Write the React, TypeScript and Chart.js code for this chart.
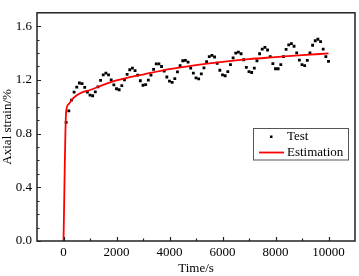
import React, { useEffect, useRef } from "react";
import { Chart, registerables } from "chart.js";

Chart.register(...registerables);

const testTime = [
  100, 200, 300, 400, 500, 600, 700, 800, 900, 1000,
  1100, 1200, 1300, 1400, 1500, 1600, 1700, 1800, 1900, 2000,
  2100, 2200, 2300, 2400, 2500, 2600, 2700, 2800, 2900, 3000,
  3100, 3200, 3300, 3400, 3500, 3600, 3700, 3800, 3900, 4000,
  4100, 4200, 4300, 4400, 4500, 4600, 4700, 4800, 4900, 5000,
  5100, 5200, 5300, 5400, 5500, 5600, 5700, 5800, 5900, 6000,
  6100, 6200, 6300, 6400, 6500, 6600, 6700, 6800, 6900, 7000,
  7100, 7200, 7300, 7400, 7500, 7600, 7700, 7800, 7900, 8000,
  8100, 8200, 8300, 8400, 8500, 8600, 8700, 8800, 8900, 9000,
  9100, 9200, 9300, 9400, 9500, 9600, 9700, 9800, 9900, 10000,
];

const testStrain = [
  0.884, 0.969, 1.049, 1.109, 1.146, 1.177, 1.172, 1.144, 1.109, 1.087,
  1.082, 1.111, 1.148, 1.196, 1.238, 1.25, 1.238, 1.2, 1.163, 1.134,
  1.127, 1.158, 1.2, 1.241, 1.276, 1.288, 1.269, 1.236, 1.194, 1.16,
  1.165, 1.198, 1.236, 1.279, 1.319, 1.32, 1.3, 1.265, 1.222, 1.191,
  1.182, 1.21, 1.26, 1.307, 1.343, 1.345, 1.333, 1.288, 1.25, 1.215,
  1.208, 1.245, 1.29, 1.336, 1.373, 1.383, 1.371, 1.324, 1.272, 1.238,
  1.231, 1.262, 1.314, 1.364, 1.4, 1.407, 1.395, 1.35, 1.293, 1.262,
  1.255, 1.288, 1.343, 1.395, 1.43, 1.442, 1.423, 1.373, 1.321, 1.283,
  1.283, 1.314, 1.373, 1.428, 1.461, 1.47, 1.451, 1.402, 1.347, 1.314,
  1.307, 1.345, 1.402, 1.458, 1.492, 1.503, 1.485, 1.43, 1.373, 1.338,
];

const estTime = [0, 100, 200, 300, 500, 700, 1000, 1500, 2000, 2500, 3000, 4000, 5000, 6000, 7000, 8000, 9000, 10000];
const estStrain = [0, 0.965, 1.02, 1.05, 1.085, 1.107, 1.125, 1.163, 1.196, 1.22, 1.24, 1.28, 1.31, 1.335, 1.355, 1.37, 1.385, 1.397];

const xMajorTicks = [0, 2000, 4000, 6000, 8000, 10000];
const xMinorTicks = [1000, 3000, 5000, 7000, 9000];
const yMajorTicks = [0, 0.4, 0.8, 1.2, 1.6];
const yMinorTicks = [0.1, 0.2, 0.3, 0.5, 0.6, 0.7, 0.9, 1.0, 1.1, 1.3, 1.4, 1.5];

const FONT = "'Liberation Serif', 'Times New Roman', serif";

const framePlugin = {
  id: "frameTicksLegend",
  afterDraw(chart: any) {
    const { ctx, chartArea: a, scales } = chart;
    const xs = scales.x;
    const ys = scales.y;
    ctx.save();
    ctx.strokeStyle = "#222";
    ctx.lineWidth = 1.2;
    ctx.beginPath();
    for (const v of xMajorTicks) {
      const p = Math.round(xs.getPixelForValue(v)) + 0.5;
      ctx.moveTo(p, a.bottom);
      ctx.lineTo(p, a.bottom - 4);
    }
    for (const v of xMinorTicks) {
      const p = Math.round(xs.getPixelForValue(v)) + 0.5;
      ctx.moveTo(p, a.bottom);
      ctx.lineTo(p, a.bottom - 2.5);
    }
    for (const v of yMajorTicks) {
      const p = Math.round(ys.getPixelForValue(v)) + 0.5;
      ctx.moveTo(a.left, p);
      ctx.lineTo(a.left + 4, p);
    }
    for (const v of yMinorTicks) {
      const p = Math.round(ys.getPixelForValue(v)) + 0.5;
      ctx.moveTo(a.left, p);
      ctx.lineTo(a.left + 2.5, p);
    }
    ctx.stroke();
    ctx.lineWidth = 1.5;
    ctx.strokeRect(a.left, a.top, a.right - a.left, a.bottom - a.top);

    // legend
    const lx = 253.5, ly = 128.5, lw = 95, lh = 31.5;
    ctx.fillStyle = "#fff";
    ctx.fillRect(lx, ly, lw, lh);
    ctx.strokeStyle = "#555";
    ctx.lineWidth = 1;
    ctx.strokeRect(lx, ly, lw, lh);
    ctx.fillStyle = "#000";
    ctx.fillRect(270, 135.5, 2.5, 2.5);
    ctx.strokeStyle = "#ff0000";
    ctx.lineWidth = 1.8;
    ctx.beginPath();
    ctx.moveTo(259, 152.5);
    ctx.lineTo(284, 152.5);
    ctx.stroke();
    ctx.fillStyle = "#000";
    ctx.font = `13px ${FONT}`;
    ctx.textBaseline = "middle";
    ctx.textAlign = "left";
    ctx.fillText("Test", 287, 137);
    ctx.fillText("Estimation", 287, 152.5);
    ctx.restore();
  },
};

export default function App() {
  const ref = useRef<HTMLCanvasElement>(null);
  useEffect(() => {
    if (!ref.current) return;
    const chart = new Chart(ref.current, {
      type: "scatter",
      data: {
        datasets: [
          {
            label: "Estimation",
            data: estTime.map((t, i) => ({ x: t, y: estStrain[i] })),
            showLine: true,
            borderColor: "#ff0000",
            backgroundColor: "#ff0000",
            borderWidth: 1.8,
            pointRadius: 0,
            cubicInterpolationMode: "monotone",
            order: 0,
          },
          {
            label: "Test",
            data: testTime.map((t, i) => ({ x: t, y: testStrain[i] })),
            showLine: false,
            pointStyle: "rect",
            pointRadius: 2,
            borderWidth: 0,
            backgroundColor: "#000",
            borderColor: "#000",
            order: 1,
          },
        ],
      },
      options: {
        animation: false,
        responsive: false,
        devicePixelRatio: 1,
        layout: { padding: { top: 1, right: 2, left: 0, bottom: 0 } },
        plugins: { legend: { display: false }, tooltip: { enabled: false } },
        scales: {
          x: {
            type: "linear",
            min: -1000,
            max: 11000,
            afterBuildTicks: (s: any) => {
              s.ticks = xMajorTicks.map((v) => ({ value: v }));
            },
            afterFit: (s: any) => {
              s.height = 35;
            },
            grid: { display: false, drawTicks: false },
            border: { display: false },
            ticks: {
              padding: 4,
              color: "#000",
              font: { family: FONT, size: 13 },
              maxRotation: 0,
              callback: (v: any) => String(v),
            },
            title: {
              display: true,
              text: "Time/s",
              color: "#000",
              font: { family: FONT, size: 13 },
              padding: { top: 0, bottom: 0 },
            },
          },
          y: {
            type: "linear",
            min: 0,
            max: 1.7,
            afterBuildTicks: (s: any) => {
              s.ticks = yMajorTicks.map((v) => ({ value: v }));
            },
            afterFit: (s: any) => {
              s.width = 37;
            },
            grid: { display: false, drawTicks: false },
            border: { display: false },
            ticks: {
              padding: 5,
              color: "#000",
              font: { family: FONT, size: 13 },
              callback: (v: any) => Number(v).toFixed(1),
            },
            title: {
              display: true,
              text: "Axial strain/%",
              color: "#000",
              font: { family: FONT, size: 13 },
              padding: { top: 0, bottom: 0 },
            },
          },
        },
      },
      plugins: [framePlugin],
    });
    return () => chart.destroy();
  }, []);
  return (
    <div style={{ position: "fixed", left: 0, top: 0, width: 359, height: 276, background: "#fff" }}>
      <canvas ref={ref} width={359} height={276} style={{ width: 359, height: 276 }} />
    </div>
  );
}
